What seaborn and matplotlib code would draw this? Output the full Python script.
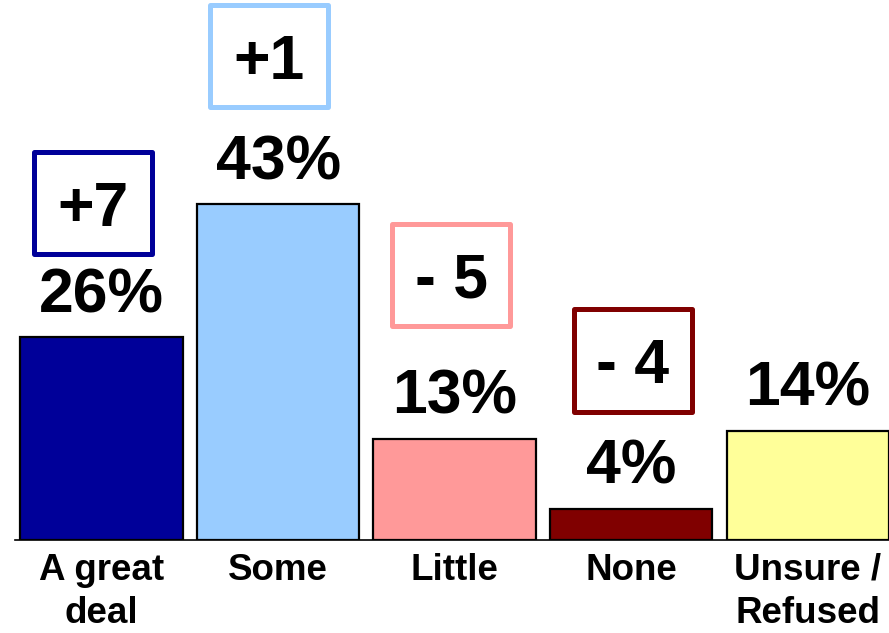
import matplotlib
matplotlib.use('Agg')
import matplotlib.pyplot as plt
from matplotlib.patches import Rectangle
import pandas as pd
import seaborn as sns

# chart values
categories = ["A great\ndeal", "Some", "Little", "None", "Unsure /\nRefused"]
percents = [26, 43, 13, 4, 14]
changes = ["+7", "+1", "- 5", "- 4", None]
bar_colors = ["#000099", "#99CCFF", "#FF9999", "#800000", "#FFFF99"]

# where the change boxes sit (x offset from bar centre, y centre in data units)
box_dx = [-0.05, -0.05, -0.02, 0.01, 0.0]
box_yc = [43.2, 62.0, 34.0, 23.0, 0.0]

sns.set_style("white")
plt.rcParams['font.family'] = ['Liberation Sans', 'DejaVu Sans']
plt.rcParams['text.color'] = 'black'
plt.rcParams['xtick.color'] = 'black'

df = pd.DataFrame({"cat": categories, "pct": percents})

fig = plt.figure(figsize=(8.89, 6.33), dpi=100)
ax = fig.add_axes([15 / 889, 93 / 633, 874 / 889, 540 / 633])

sns.barplot(data=df, x="cat", y="pct", hue="cat", palette=bar_colors,
            legend=False, width=0.92, edgecolor="black", linewidth=1.6,
            saturation=1, ax=ax)

ax.set_xlim(-0.49, 4.46)
ax.set_ylim(0, 69.2)
ax.set_xlabel("")
ax.set_ylabel("")
ax.set_yticks([])
for side in ["top", "right", "left"]:
    ax.spines[side].set_visible(False)
ax.spines["bottom"].set_color("black")
ax.spines["bottom"].set_linewidth(1.2)
ax.tick_params(axis="x", length=0, pad=9, labelcolor="black")
for lbl in ax.get_xticklabels():
    lbl.set_fontsize(26.5)
    lbl.set_fontweight("bold")
    lbl.set_linespacing(1.3)

# percentage labels
for i, v in enumerate(percents):
    ax.annotate(f"{v}%", (i, v), xytext=(0, 18), textcoords="offset points",
                ha="center", va="baseline", fontsize=45, fontweight="bold",
                color="black")

# change boxes
bw, bh = 0.669, 13.1
for i, ch in enumerate(changes):
    if ch is None:
        continue
    cx = i + box_dx[i]
    cy = box_yc[i]
    ax.add_patch(Rectangle((cx - bw / 2, cy - bh / 2), bw, bh, facecolor="white",
                           edgecolor=bar_colors[i], linewidth=3.6,
                           joinstyle="round", clip_on=False, zorder=3))
    ax.text(cx, cy - 2.9, ch, ha="center", va="baseline", fontsize=45,
            fontweight="bold", color="black", zorder=4)

fig.savefig("out.png", dpi=100)
